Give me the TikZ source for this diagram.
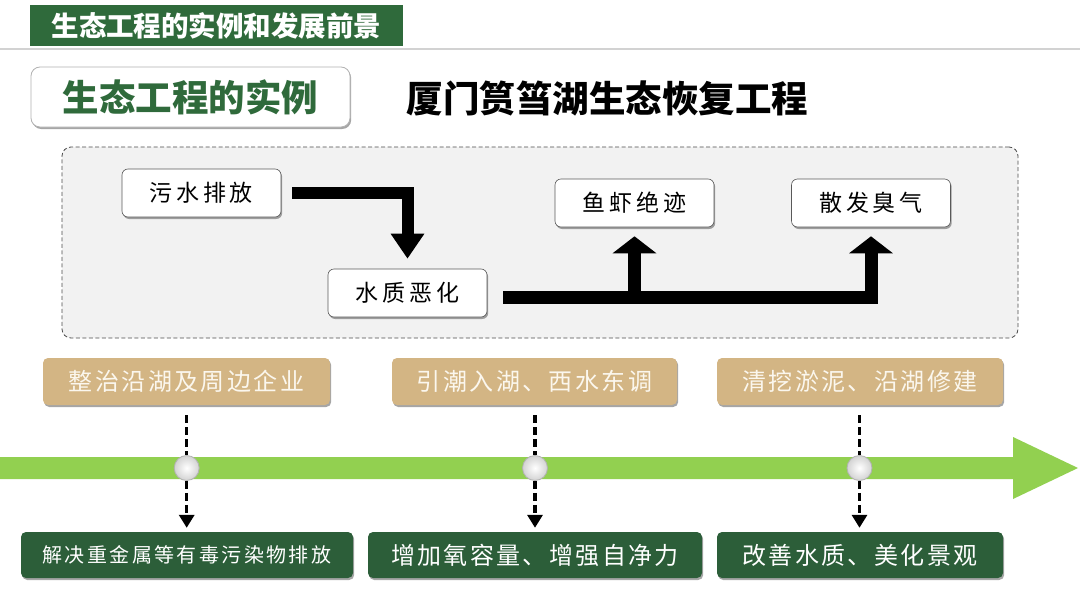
\documentclass[tikz,border=0pt]{standalone}
\usepackage{fontspec}
\setmainfont{Noto Sans CJK SC}
\newfontfamily\lsA[LetterSpace=10]{Noto Sans CJK SC}
\newfontfamily\lsB[LetterSpace=16]{Noto Sans CJK SC}
\newfontfamily\lsC[LetterSpace=12]{Noto Sans CJK SC}
\usetikzlibrary{arrows.meta,shadows,calc}
\definecolor{titlegreen}{HTML}{2F6A3B}
\definecolor{boxgreen}{HTML}{2C5E39}
\definecolor{tanbox}{HTML}{D3B584}
\definecolor{barg}{HTML}{92D050}
\definecolor{panelgray}{HTML}{F2F2F2}
\definecolor{tantext}{HTML}{FBF7EE}
\tikzset{
  softshadow/.style={drop shadow={shadow xshift=1.2pt, shadow yshift=-2pt, opacity=0.35, fill=black}},
  flowbox/.style={draw=gray!70!black, line width=0.6pt, fill=white, rounded corners=6pt,
    minimum width=159pt, minimum height=48pt, inner sep=0pt, softshadow,
    font=\lsB\fontsize{23}{26}\selectfont},
  topbox/.style={fill=tanbox, rounded corners=5pt, minimum height=47pt, inner sep=0pt,
    softshadow, text=tantext, font=\lsA\fontsize{24}{28}\selectfont},
  botbox/.style={fill=boxgreen, rounded corners=5pt, minimum height=46pt, inner sep=0pt,
    softshadow, text=white, font=\lsA\fontsize{24}{28}\selectfont},
  bigarrow/.style={draw=black, line width=12pt, line join=miter},
  dashline/.style={draw=black, line width=3.2pt, dash pattern=on 8pt off 4pt},
  dottl/.style={circle, minimum size=25pt, inner sep=0pt, draw=gray!60, line width=0.8pt,
    shading=radial, inner color=white, outer color=gray!35},
}
\begin{document}
\begin{tikzpicture}[x=1pt,y=-1pt]
\useasboundingbox (0,0) rectangle (1080,608);
\fill[white] (0,0) rectangle (1080,608);

% header
\draw[gray!35, line width=2pt] (0,49) -- (1080,49);
\node[fill=titlegreen, minimum width=373pt, minimum height=41pt, inner sep=0pt, text=white,
  font=\fontsize{27.5}{31}\selectfont\bfseries] (title) at (216.5,25.5) {生态工程的实例和发展前景};

\node[draw=gray!60, line width=0.8pt, fill=white, rounded corners=9pt, minimum width=319pt,
  minimum height=60pt, inner sep=0pt, softshadow, text=titlegreen,
  font=\fontsize{36.5}{41}\selectfont\bfseries] (sec) at (190.5,97) {生态工程的实例};
\node[font=\fontsize{36.5}{41}\selectfont\bfseries] (head) at (607.5,98) {厦门筼筜湖生态恢复工程};

% panel
\node[draw=gray!60!black, line width=0.8pt, dash pattern=on 4pt off 2.5pt, fill=panelgray,
  rounded corners=9pt, minimum width=956pt, minimum height=191pt] (panel) at (540,242.5) {};

\node[flowbox] (a) at (201.5,193) {污水排放};
\node[flowbox] (b) at (407.5,293) {水质恶化};
\node[flowbox] (c) at (634.5,203) {鱼虾绝迹};
\node[flowbox] (d) at (871,203) {散发臭气};

\draw[bigarrow, -{Triangle[width=32pt,length=25pt]}] ([xshift=11pt]a.east) -| ([yshift=10pt]b.north);
\coordinate (bs) at ([xshift=16pt,yshift=-4pt]b.east);
\draw[bigarrow, line width=13pt, -{Triangle[width=43pt,length=17pt]}] (bs) -| ([yshift=-9pt]d.south);
\draw[bigarrow, line width=13pt, -{Triangle[width=43pt,length=17pt]}] (bs -| c.south) -- ([yshift=-9pt]c.south);

% timeline
\fill[barg] (0,457) -- (1013,457) -- (1013,437) -- (1078,468) -- (1013,499) -- (1013,479) -- (0,479) -- cycle;

\node[topbox, minimum width=287pt] (t1) at (186.5,381.5) {整治沿湖及周边企业};
\node[topbox, minimum width=285pt] (t2) at (534.5,381.5) {引潮入湖、西水东调};
\node[topbox, minimum width=286pt] (t3) at (860,381.5) {清挖淤泥、沿湖修建};

\node[botbox, minimum width=332pt, font=\lsC\fontsize{20}{24}\selectfont] (r1) at (187,555) {解决重金属等有毒污染物排放};
\node[botbox, minimum width=334pt] (r2) at (535,555) {增加氧容量、增强自净力};
\node[botbox, minimum width=286pt] (r3) at (860,555) {改善水质、美化景观};

\node[dottl] (k1) at (186.7,468) {};
\node[dottl] (k2) at (535,468) {};
\node[dottl] (k3) at (859.5,468) {};

\foreach \i in {1,2,3}{
  \draw[dashline] ([yshift=-10pt]t\i.south -| k\i) -- (k\i.north);
  \draw[dashline, -{Triangle[width=15pt,length=13pt,sep=0pt]}] (k\i.south) -- ([yshift=4pt]r\i.north -| k\i);
}
\end{tikzpicture}
\end{document}
